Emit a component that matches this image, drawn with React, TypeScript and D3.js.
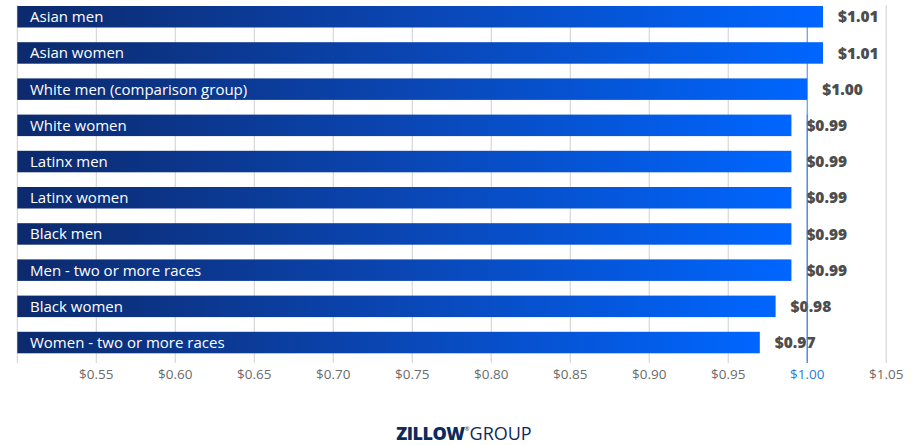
import React from "react";
import * as d3 from "d3";

const categories = [
  "Asian men",
  "Asian women",
  "White men (comparison group)",
  "White women",
  "Latinx men",
  "Latinx women",
  "Black men",
  "Men - two or more races",
  "Black women",
  "Women - two or more races",
];
const values = [1.01, 1.01, 1.0, 0.99, 0.99, 0.99, 0.99, 0.99, 0.98, 0.97];
const tickValues = [0.55, 0.6, 0.65, 0.7, 0.75, 0.8, 0.85, 0.9, 0.95, 1.0, 1.05];

const W = 912;
const H = 445;

export default function App() {
  const x = d3.scaleLinear().domain([0.5, 1.05]).range([17.3, 886.2]);
  const bh = 21.5;
  const y = d3
    .scaleBand<string>()
    .domain(categories)
    .range([6, 6 + 36.2 * categories.length - (36.2 - bh)])
    .paddingInner((36.2 - bh) / 36.2)
    .paddingOuter(0);
  const fmt = (v: number) => "$" + d3.format(".2f")(v);
  const gridTop = 5;
  const gridBottom = 363;

  return (
    <svg
      width={W}
      height={H}
      style={{ position: "absolute", left: 0, top: 0, background: "#fff" }}
      fontFamily="'Open Sans', sans-serif"
    >
      <defs>
        <linearGradient id="barGrad" x1="0" y1="0" x2="1" y2="0">
          <stop offset="0%" stopColor="#0c2a6c" />
          <stop offset="50%" stopColor="#0a46b4" />
          <stop offset="100%" stopColor="#0066ff" />
        </linearGradient>
      </defs>
      {/* grid lines */}
      <line x1={x(0.5)} x2={x(0.5)} y1={gridTop} y2={gridBottom} stroke="#cfcfcf" strokeWidth={1} />
      {tickValues.map((t) =>
        t === 1.0 ? null : (
          <line
            key={t}
            x1={x(t)}
            x2={x(t)}
            y1={t === 1.05 ? gridTop : gridTop + 20}
            y2={gridBottom}
            stroke="#cfcfcf"
            strokeWidth={1}
          />
        )
      )}
      <line x1={x(1.0)} x2={x(1.0)} y1={gridTop + 20} y2={gridBottom} stroke="#3d84e6" strokeWidth={1} />
      {/* bars */}
      {categories.map((c, i) => {
        const top = y(c) as number;
        const h = y.bandwidth();
        return (
          <g key={c}>
            <rect
              x={x(0.5)}
              y={top}
              width={x(values[i]) - x(0.5)}
              height={h}
              fill="url(#barGrad)"
            />
            <text
              x={30}
              y={top + h / 2}
              dy="0.36em"
              fill="#ffffff"
              fontSize={15}
            >
              {c}
            </text>
            <text
              x={x(values[i]) + 15}
              y={top + h / 2}
              dy="0.36em"
              fill="#4d4d4d"
              fontSize={15.5}
              fontWeight={800}
            >
              {fmt(values[i])}
            </text>
          </g>
        );
      })}
      {/* comparison line over value labels */}
      <line x1={x(1.0)} x2={x(1.0)} y1={y(categories[3]) as number} y2={gridBottom} stroke="#3d84e6" strokeWidth={1} opacity={0.9} />
      {/* tick labels */}
      {tickValues.map((t) => (
        <text
          key={"l" + t}
          x={x(t)}
          y={379}
          textAnchor="middle"
          fontSize={13.5}
          fill={t === 1.0 ? "#2a7ae2" : "#6b6b6b"}
        >
          {fmt(t)}
        </text>
      ))}
      {/* logo */}
      <text x={W / 2 + 8} y={440} textAnchor="middle" fill="#0d2a5c" fontSize={18}>
        <tspan fontWeight={800} letterSpacing={-0.5}>ZILLOW</tspan>
        <tspan fontSize={6} dy={-9}>®</tspan>
        <tspan dy={9} fontWeight={400}>GROUP</tspan>
      </text>
    </svg>
  );
}
